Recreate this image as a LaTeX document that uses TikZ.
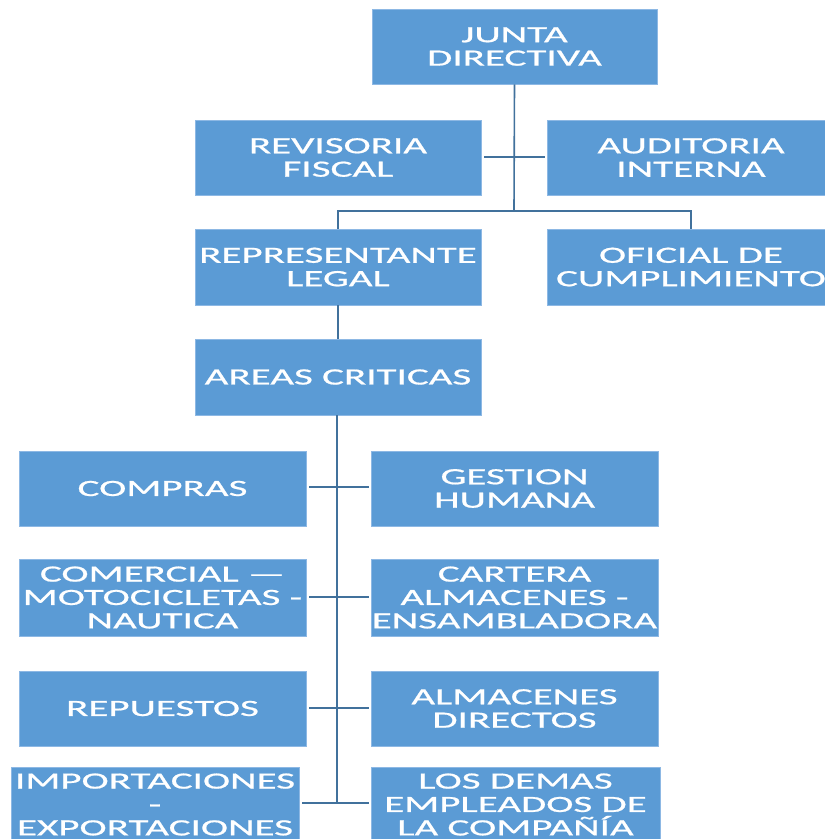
\documentclass[tikz,border=0pt]{standalone}
\usepackage{fontspec}
\setmainfont{Carlito}[FakeStretch=1.76,FakeBold=0.8]
\definecolor{boxblue}{HTML}{5B9BD5}
\definecolor{boxedge}{HTML}{8DB8E4}
\definecolor{linkblue}{HTML}{41719C}
\begin{document}
\begin{tikzpicture}[x=1pt,y=-1pt,
  box/.style={rectangle, fill=boxblue, draw=boxedge, line width=0.8pt,
    inner sep=0pt, minimum height=75pt, text=white, align=center,
    font=\fontsize{23.3}{23.4}\selectfont},
  link/.style={draw=linkblue, line width=1.6pt},
  trunk/.style={draw=linkblue, line width=2.4pt}]
\useasboundingbox (0,0) rectangle (825,839);
\clip (0,0) rectangle (825,839);
\fill[white] (0,0) rectangle (825,839);
% nodes
\node[box, minimum width=285pt] (junta) at (514.5,46.5) {JUNTA\\DIRECTIVA};
\node[box, minimum width=286pt] (rev) at (338,157.5) {REVISORIA\\FISCAL};
\node[box, minimum width=288pt] (aud) at (691,157.5) {AUDITORIA\\INTERNA};
\node[box, minimum width=286pt, minimum height=76pt] (rep) at (338,267) {REPRESENTANTE\\LEGAL};
\node[box, minimum width=288pt, minimum height=76pt] (ofi) at (691,267) {OFICIAL DE\\CUMPLIMIENTO};
\node[box, minimum width=286pt, minimum height=76pt] (areas) at (338,377) {AREAS CRITICAS};
\node[box, minimum width=287pt] (compras) at (162.5,488.5) {COMPRAS};
\node[box, minimum width=287pt] (gestion) at (514.5,488.5) {GESTION\\HUMANA};
\node[box, minimum width=287pt, minimum height=77pt] (comercial) at (162.5,597.5) {COMERCIAL —\\MOTOCICLETAS -\\NAUTICA};
\node[box, minimum width=287pt, minimum height=77pt] (cartera) at (514.5,597.5) {CARTERA\\ALMACENES -\\ENSAMBLADORA};
\node[box, minimum width=287pt] (repuestos) at (162.5,708.5) {REPUESTOS};
\node[box, minimum width=287pt] (almacenes) at (514.5,708.5) {ALMACENES\\DIRECTOS};
\node[box, minimum width=288pt] (import) at (155,804.5) {IMPORTACIONES\\-\\EXPORTACIONES};
\node[box, minimum width=289pt] (demas) at (515.5,804.5) {LOS DEMAS\\EMPLEADOS DE\\LA COMPAÑÍA};
% coordinates
\coordinate (jb) at (514,211);
\coordinate (t1) at (337,487);
\coordinate (t2) at (337,597);
\coordinate (t3) at (337,708);
\coordinate (t4) at (337,803);
% connectors
\draw[link] (junta.south) -- (jb);
\draw[link] ([xshift=3pt]rev.east |- 0,157) -- ([xshift=-2pt]aud.west |- 0,157);
\draw[link] (rep.north) -- (rep.north |- jb) -- (ofi.north |- jb) -- (ofi.north);
\draw[link] (rep.south) -- (areas.north);
\draw[trunk] ([xshift=-1pt]areas.south) -- (t4);
\draw[link] ([xshift=3pt]compras.east |- t1) -- ([xshift=-2pt]gestion.west |- t1);
\draw[link] ([xshift=3pt]comercial.east |- t2) -- ([xshift=-2pt]cartera.west |- t2);
\draw[link] ([xshift=3pt]repuestos.east |- t3) -- ([xshift=-2pt]almacenes.west |- t3);
\draw[link] ([xshift=3pt]import.east |- t4) -- ([xshift=-2pt]demas.west |- t4);
\end{tikzpicture}
\end{document}
